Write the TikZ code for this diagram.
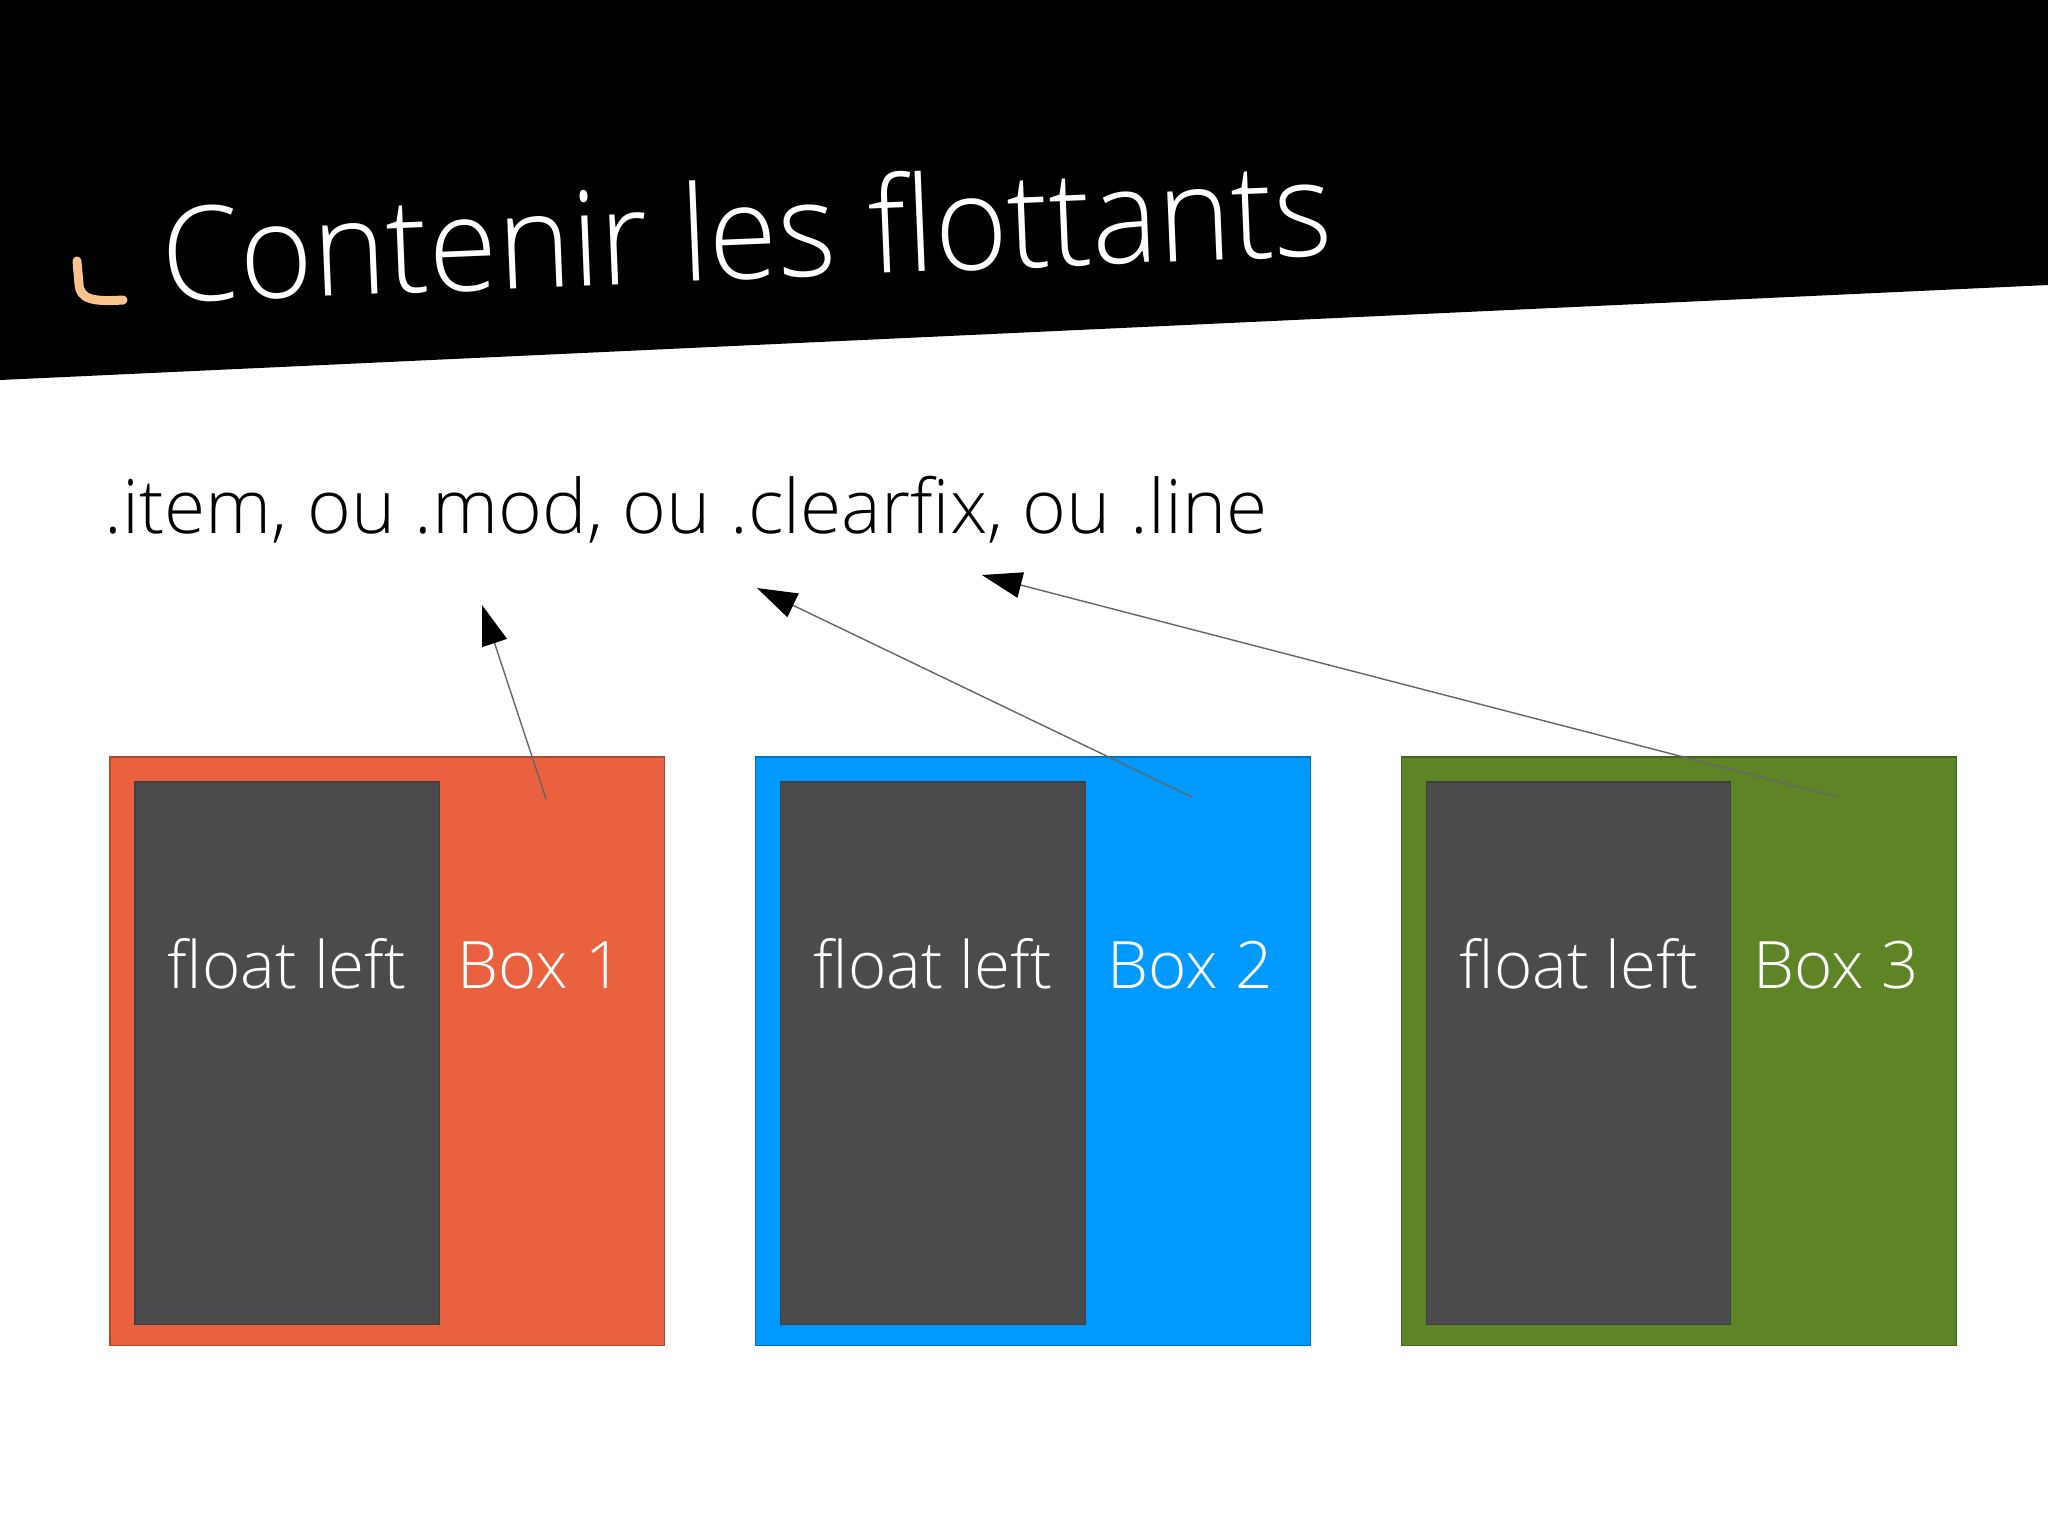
\documentclass[tikz,border=0pt]{standalone}
\usepackage{fontspec}
\setmainfont{Open Sans}[UprightFont=* Light]
\usetikzlibrary{positioning,calc,arrows.meta}

\definecolor{boxone}{RGB}{233,97,62}
\definecolor{boxtwo}{RGB}{0,153,255}
\definecolor{boxthree}{RGB}{94,132,38}
\definecolor{floatgray}{RGB}{75,74,76}
\definecolor{peach}{RGB}{250,196,140}

\begin{document}
\begin{tikzpicture}[x=0.01cm, y=-0.01cm, >={Triangle[length=4mm,width=2.6mm,black]}]
	\tikzstyle{outerbox}=[draw=#1!75!black, fill=#1, line width=0.3pt, inner sep=0, outer sep=0, minimum width=5.54cm, minimum height=5.88cm]
	\tikzstyle{floatbox}=[draw=black!75, fill=floatgray, line width=0.3pt, inner sep=0, outer sep=0, minimum width=3.04cm, minimum height=5.42cm, anchor=north west]
	\tikzstyle{boxtext}=[text=white, font=\fontsize{18.6}{22}\selectfont, inner sep=0]
	\tikzstyle{pointer}=[->, draw=black!60, line width=0.4pt]
	\useasboundingbox (0,0) rectangle (2048,1536);
	\fill[white] (0,0) rectangle (2048,1536);
	\fill[black] (0,0) -- (2048,0) -- (2048,285) -- (0,380) -- cycle;
	\draw[peach, line width=0.9mm, line cap=round] (77,261) -- (79,284) .. controls (80,299) and (92,302) .. (123,300);
	\node[text=white, font=\fontsize{37.5}{45}\selectfont, anchor=base west, inner sep=0, rotate=2.35, xscale=0.95] (title) at (163,303) {Contenir les flottants};
	\node[font=\fontsize{21.3}{26}\selectfont, anchor=base west, inner sep=0] (selectors) at (104,533) {.item, ou .mod, ou .clearfix, ou .line};
	% the three boxes
	\node[outerbox=boxone, anchor=north west] (box1) at (110,757) {};
	\node[outerbox=boxtwo, right=0.915cm of box1] (box2) {};
	\node[outerbox=boxthree, right=0.915cm of box2] (box3) {};
	\node[floatbox] (float1) at ($(box1.north west)+(25,25)$) {};
	\node[floatbox] (float2) at ($(box2.north west)+(25,25)$) {};
	\node[floatbox] (float3) at ($(box3.north west)+(25,25)$) {};
	\node[boxtext, anchor=base] (flt1) at ($(float1.north)+(0,206)$) {float left};
	\node[boxtext, anchor=base] (flt2) at ($(float2.north)+(0,206)$) {float left};
	\node[boxtext, anchor=base] (flt3) at ($(float3.north)+(0,206)$) {float left};
	\node[boxtext, anchor=base west] (name1) at ($(float1.north east)+(18,206)$) {Box 1};
	\node[boxtext, anchor=base west] (name2) at ($(float2.north east)+(22,206)$) {Box 2};
	\node[boxtext, anchor=base west] (name3) at ($(float3.north east)+(22,206)$) {Box 3};
	% arrows up to the class names
	\coordinate (from1) at ($(box1.north west)+(436,42)$);
	\coordinate (from2) at ($(box2.north west)+(436,40)$);
	\coordinate (from3) at ($(box3.north west)+(436,40)$);
	\coordinate (mod) at (482,605);
	\coordinate (clearfix) at (757,588);
	\coordinate (line) at (982,575);
	\draw[pointer] (from1) -- (mod);
	\draw[pointer] (from2) -- (clearfix);
	\draw[pointer] (from3) -- (line);
\end{tikzpicture}
\end{document}
